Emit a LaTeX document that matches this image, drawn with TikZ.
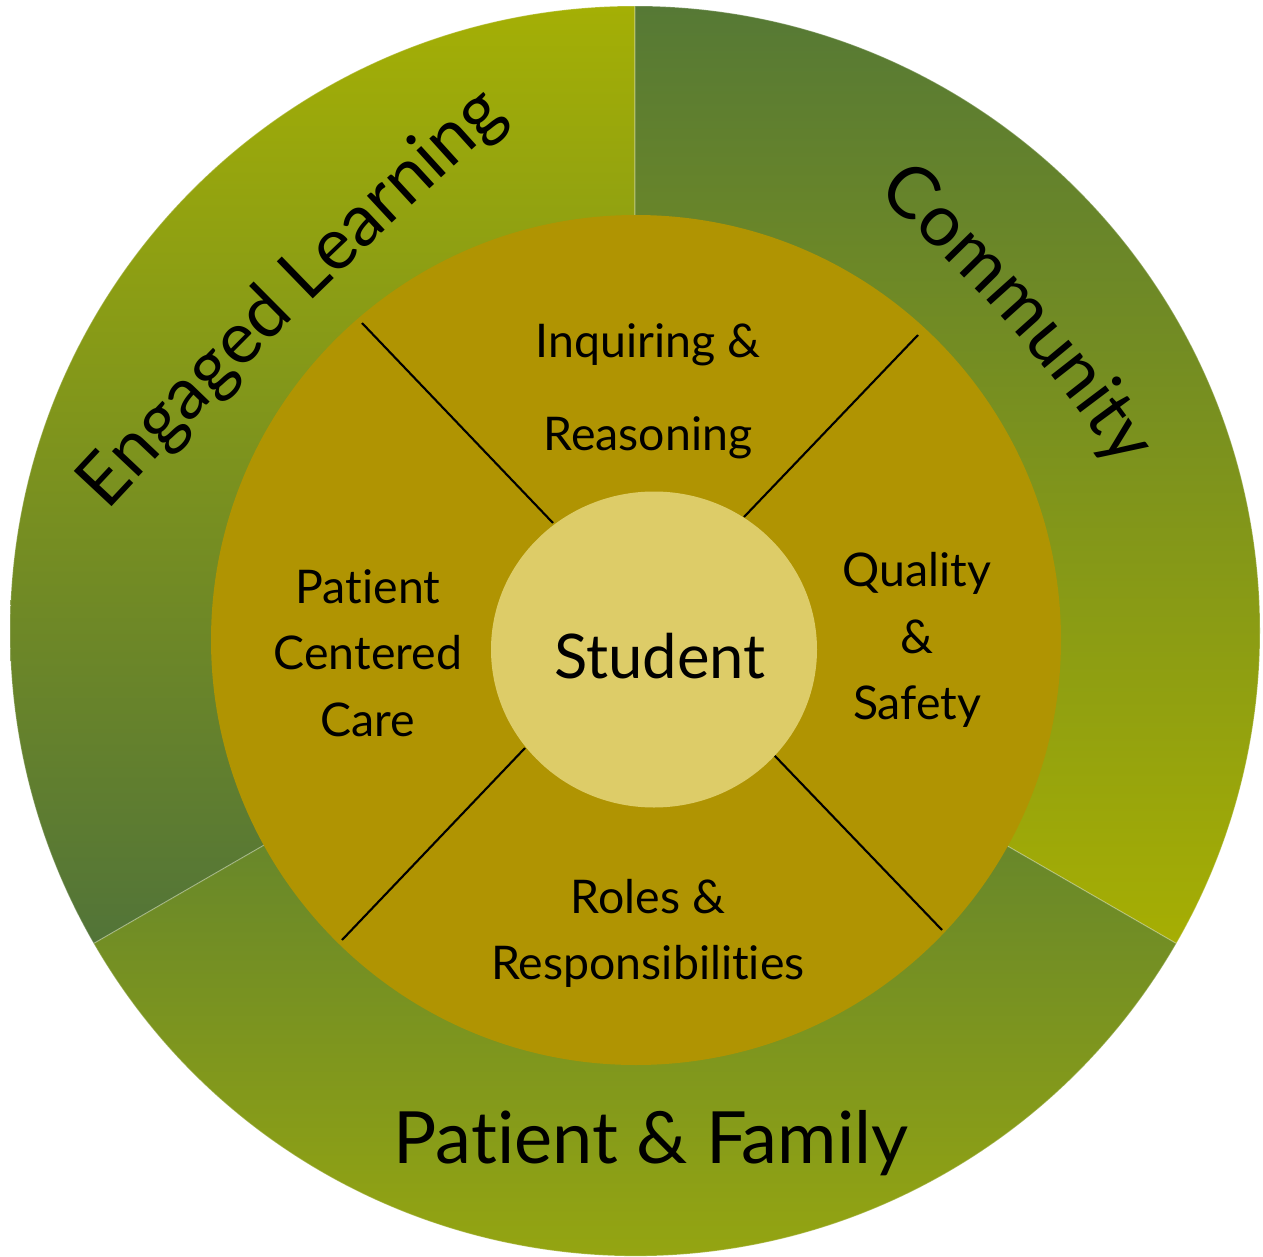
\documentclass[tikz,border=0pt]{standalone}
\usepackage{fontspec}
\setmainfont{Lato}[Ligatures={NoCommon}]
\usetikzlibrary{decorations.text}

% palette
\definecolor{gold}{RGB}{176,148,2}
\definecolor{cream}{RGB}{221,204,104}
\definecolor{elTop}{RGB}{164,175,5}
\definecolor{elBot}{RGB}{82,116,56}
\definecolor{coTop}{RGB}{86,121,53}
\definecolor{coBot}{RGB}{166,174,3}
\definecolor{pfTop}{RGB}{81,120,55}
\definecolor{pfBot}{RGB}{158,171,12}

\newcommand\ringfont{\fontsize{20.5}{24}\selectfont}
\newcommand\innerfont{\fontsize{13.2}{16}\selectfont}
\newcommand\hubfont{\fontsize{17.5}{21}\selectfont}

\begin{document}
\begin{tikzpicture}[x=0.01cm, y=0.01cm,
  lbl/.style={inner sep=0pt, anchor=base, font=\innerfont},
  ringlbl/.style={inner sep=0pt, anchor=base, font=\ringfont},
  divider/.style={line width=0.6pt, black},
  seam/.style={draw=white, draw opacity=0.25, line width=0.3pt}]
\useasboundingbox (0,0) rectangle (1263,1256);

\coordinate (O) at (635,625);

% outer ring: three shaded sectors
\shade[top color=elTop, bottom color=elBot, seam]
  (O) -- ++(90:625) arc[start angle=90, end angle=210, radius=625] -- cycle;
\shade[top color=coTop, bottom color=coBot, seam]
  (O) -- ++(90:625) arc[start angle=90, end angle=-30, radius=625] -- cycle;
\shade[top color=pfTop, bottom color=pfBot, seam]
  (O) -- ++(210:625) arc[start angle=210, end angle=330, radius=625] -- cycle;

% middle disc
\fill[gold] (636,616) circle[radius=425];

% dividers between the four competencies
\coordinate (d1a) at (362,933); \coordinate (d1b) at (553,733);
\coordinate (d2a) at (918,921); \coordinate (d2b) at (744,739);
\coordinate (d3a) at (342,316); \coordinate (d3b) at (525,508);
\coordinate (d4a) at (942,326); \coordinate (d4b) at (774,501);
\draw[divider] (d1a) -- (d1b);
\draw[divider] (d2a) -- (d2b);
\draw[divider] (d3a) -- (d3b);
\draw[divider] (d4a) -- (d4b);

% hub
\fill[cream] (654,606.5) ellipse[x radius=163, y radius=158];
\node[inner sep=0pt, anchor=base, font=\hubfont] (hub) at (660,578) {Student};

% competencies
\node[lbl] (iq1) at (648,899) {Inquiring \&};
\node[lbl] (iq2) at (648,806) {Reasoning};
\node[lbl] (qs1) at (917,670) {Quality};
\node[lbl] (qs2) at (917,603) {\&};
\node[lbl] (qs3) at (917,537) {Safety};
\node[lbl] (pc1) at (368,653) {Patient};
\node[lbl] (pc2) at (368,587) {Centered};
\node[lbl] (pc3) at (368,520) {Care};
\node[lbl] (rr1) at (648,343) {Roles \&};
\node[lbl] (rr2) at (648,277) {Responsibilities};

% ring labels
\node[ringlbl] (pf) at (651,93) {Patient \& Family};
\path[decorate, decoration={text along path, text align=center,
  text={|\ringfont|Engaged Learning}}]
  (60,694) to[bend left=3] (560,1184);
\path[decorate, decoration={text along path, text align=center,
  text={|\ringfont|Community}}]
  (826,1106) to[bend left=8] (1158,732);
\end{tikzpicture}
\end{document}
